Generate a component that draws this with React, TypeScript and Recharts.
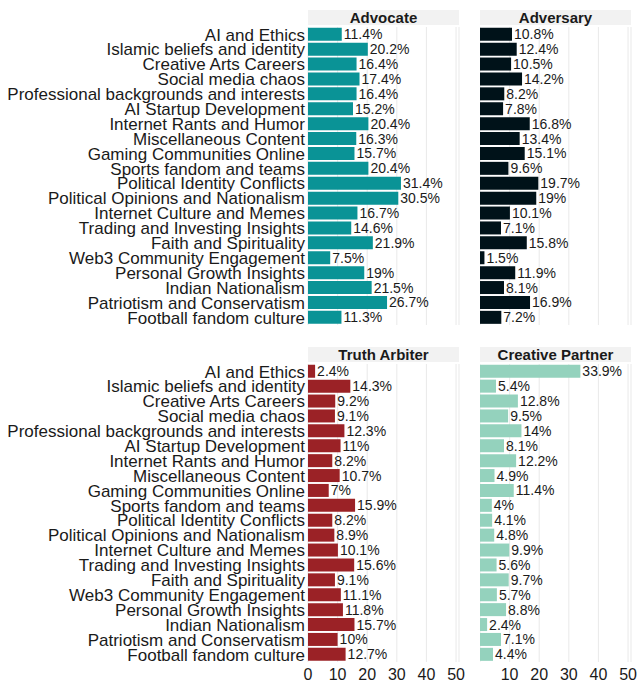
import React from 'react';
import { BarChart, Bar, XAxis, YAxis, CartesianGrid, LabelList } from 'recharts';

const categories = [
  'AI and Ethics',
  'Islamic beliefs and identity',
  'Creative Arts Careers',
  'Social media chaos',
  'Professional backgrounds and interests',
  'AI Startup Development',
  'Internet Rants and Humor',
  'Miscellaneous Content',
  'Gaming Communities Online',
  'Sports fandom and teams',
  'Political Identity Conflicts',
  'Political Opinions and Nationalism',
  'Internet Culture and Memes',
  'Trading and Investing Insights',
  'Faith and Spirituality',
  'Web3 Community Engagement',
  'Personal Growth Insights',
  'Indian Nationalism',
  'Patriotism and Conservatism',
  'Football fandom culture',
];

const advocate = [11.4, 20.2, 16.4, 17.4, 16.4, 15.2, 20.4, 16.3, 15.7, 20.4, 31.4, 30.5, 16.7, 14.6, 21.9, 7.5, 19, 21.5, 26.7, 11.3];
const adversary = [10.8, 12.4, 10.5, 14.2, 8.2, 7.8, 16.8, 13.4, 15.1, 9.6, 19.7, 19, 10.1, 7.1, 15.8, 1.5, 11.9, 8.1, 16.9, 7.2];
const truthArbiter = [2.4, 14.3, 9.2, 9.1, 12.3, 11, 8.2, 10.7, 7, 15.9, 8.2, 8.9, 10.1, 15.6, 9.1, 11.1, 11.8, 15.7, 10, 12.7];
const creativePartner = [33.9, 5.4, 12.8, 9.5, 14, 8.1, 12.2, 4.9, 11.4, 4, 4.1, 4.8, 9.9, 5.6, 9.7, 5.7, 8.8, 2.4, 7.1, 4.4];

const xTicks = [0, 10, 20, 30, 40, 50];

const FONT = '"Liberation Sans", Arial, sans-serif';
const PLOT_W = 151;
const PLOT_H = 298;
const LABEL_W = 308;

interface PanelProps {
  title: string;
  values: number[];
  color: string;
  left: number;
  top: number;
  showCategories: boolean;
  showXAxis: boolean;
}

const Panel: React.FC<PanelProps> = ({ title, values, color, left, top, showCategories, showXAxis }) => {
  const data = categories.map((name, i) => ({ name, value: values[i] }));
  const yW = showCategories ? LABEL_W : 0;
  const axisH = showXAxis ? 24 : 0;
  const chartLeft = showCategories ? left - LABEL_W : left;

  return (
    <>
      <div
        style={{
          position: 'absolute',
          left,
          top: top - 17,
          width: PLOT_W,
          height: 15,
          background: '#f2f2f2',
          fontFamily: FONT,
          fontWeight: 'bold',
          fontSize: 15,
          lineHeight: '16px',
          textAlign: 'center',
          color: '#1a1a1a',
        }}
      >
        {title}
      </div>
      <div style={{ position: 'absolute', left: chartLeft, top }}>
        <BarChart
          width={yW + PLOT_W + 10}
          height={PLOT_H + axisH}
          data={data}
          layout="vertical"
          margin={{ top: 0, right: 10, bottom: 0, left: 0 }}
          barCategoryGap="5%"
        >
          <CartesianGrid horizontal={false} stroke="#ebebeb" strokeWidth={1.1} />
          <XAxis
            type="number"
            domain={[0, 51]}
            ticks={xTicks}
            allowDataOverflow
            hide={!showXAxis}
            height={axisH}
            axisLine={false}
            tickLine={false}
            tickSize={0}
            tickMargin={7}
            tick={{ fill: '#1a1a1a', fontSize: 16, fontFamily: FONT }}
          />
          <YAxis
            type="category"
            dataKey="name"
            width={yW}
            hide={!showCategories}
            axisLine={false}
            tickLine={false}
            tickSize={0}
            tickMargin={3}
            interval={0}
            tick={{ fill: '#1a1a1a', fontSize: 17, fontFamily: FONT }}
          />
          <Bar dataKey="value" fill={color} isAnimationActive={false}>
            <LabelList
              dataKey="value"
              position="right"
              offset={2}
              formatter={(v: number) => `${v}%`}
              style={{ fill: '#1a1a1a', fontSize: 14, fontFamily: FONT }}
            />
          </Bar>
        </BarChart>
      </div>
    </>
  );
};

export default function App() {
  return (
    <div style={{ position: 'absolute', left: 0, top: 0, width: 638, height: 684, background: '#fff' }}>
      <Panel title="Advocate" values={advocate} color="#0a9396" left={308} top={27} showCategories showXAxis={false} />
      <Panel title="Adversary" values={adversary} color="#001219" left={480} top={27} showCategories={false} showXAxis={false} />
      <Panel title="Truth Arbiter" values={truthArbiter} color="#9b2226" left={308} top={364} showCategories showXAxis />
      <Panel title="Creative Partner" values={creativePartner} color="#94d2bd" left={480} top={364} showCategories={false} showXAxis />
    </div>
  );
}
